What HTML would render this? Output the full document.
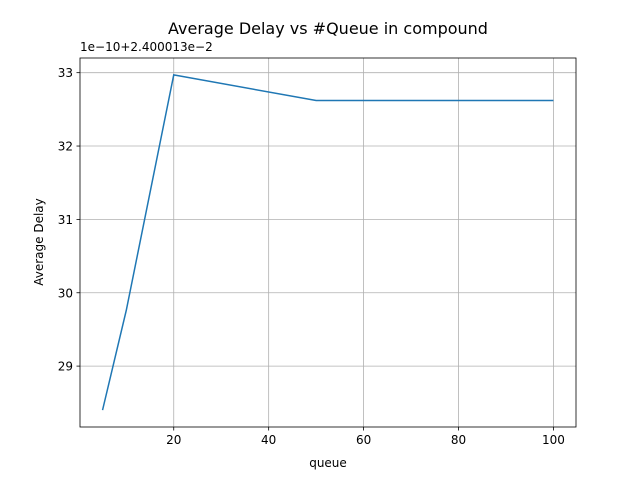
<!DOCTYPE html>
<html><head><meta charset="utf-8"><style>
body{margin:0;background:#fff;}
svg text{font-family:"DejaVu Sans","Liberation Sans",sans-serif;fill:#000;}
</style></head><body>
<svg id="c" width="640" height="480" xmlns="http://www.w3.org/2000/svg">
<rect width="640" height="480" fill="#fff"/>
<text x="328" y="34" font-size="16" text-anchor="middle">Average Delay vs #Queue in compound</text>
<text x="80" y="51" font-size="12">1e−10+2.400013e−2</text>
<text x="328" y="467" font-size="12" text-anchor="middle">queue</text>
<text x="43" y="242" font-size="12" text-anchor="middle" transform="rotate(-90 43 242)">Average Delay</text>
<g id="grid"></g><g id="ticks"></g><g id="series"></g>
<rect x="80" y="58" width="496" height="369" fill="none" stroke="#000" stroke-width="0.8"/>
</svg>
<script>
const xValues=[5,10,20,50,100];
const yValues=[28.40,29.76,32.97,32.62,32.62];
const xTicks=[20,40,60,80,100];
const yTicks=[29,30,31,32,33];
const L=80,R=576,T=58,B=427;
const xMin=0.25,xMax=104.75,yMin=28.17,yMax=33.2;
const sx=v=>L+(v-xMin)/(xMax-xMin)*(R-L);
const sy=v=>B-(v-yMin)/(yMax-yMin)*(B-T);
const NS="http://www.w3.org/2000/svg";
function mk(t,a,p){const e=document.createElementNS(NS,t);for(const k in a)e.setAttribute(k,a[k]);p.appendChild(e);return e;}
const g=document.getElementById('grid'),tk=document.getElementById('ticks'),s=document.getElementById('series');
xTicks.forEach(v=>{const x=sx(v);
const l=mk('line',{x1:x,x2:x,y1:T,y2:B,stroke:'#b0b0b0','stroke-width':0.8},g);


mk('line',{x1:x,x2:x,y1:B,y2:B+3.5,stroke:'#000','stroke-width':0.8},tk);
const t=mk('text',{x:x,y:B+17,'font-size':12,'text-anchor':'middle'},tk);t.textContent=v;

});
yTicks.forEach(v=>{const y=sy(v);
const l=mk('line',{x1:L,x2:R,y1:y,y2:y,stroke:'#b0b0b0','stroke-width':0.8},g);


mk('line',{x1:L-3.5,x2:L,y1:y,y2:y,stroke:'#000','stroke-width':0.8},tk);
const t=mk('text',{x:L-7,y:y+4.5,'font-size':12,'text-anchor':'end'},tk);t.textContent=v;

});
const p=mk('polyline',{points:xValues.map((v,i)=>sx(v)+','+sy(yValues[i])).join(' '),fill:'none',stroke:'#1f77b4','stroke-width':1.5},s);


</script>
</body></html>
